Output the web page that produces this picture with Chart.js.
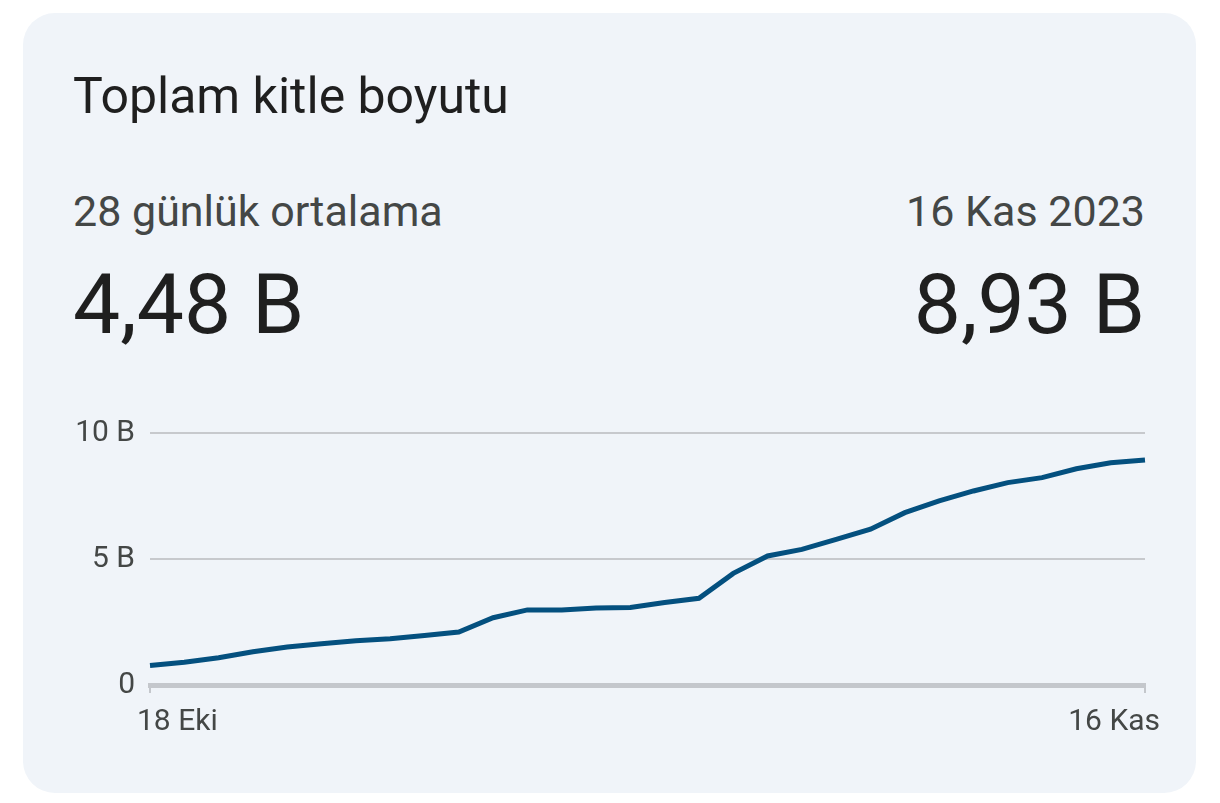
<!DOCTYPE html>
<html lang="tr">
<head>
<meta charset="utf-8">
<title>Toplam kitle boyutu</title>
<script src="https://cdn.jsdelivr.net/npm/chart.js@4.4.0/dist/chart.umd.min.js"></script>
<style>
  html, body { margin: 0; padding: 0; background: #ffffff; }
  body { width: 1220px; height: 803px; position: relative; overflow: hidden; font-family: Roboto, "Noto Sans", sans-serif; }
  .card { position: absolute; left: 23px; top: 13px; width: 1173px; height: 780px; background: #f0f4f9; border-radius: 32px; }
  .title, .sub, .big { position: absolute; line-height: 1; white-space: nowrap; }
  .title { left: 73px; top: 71px; font-size: 50px; color: #1f1f1f; }
  .sub { top: 190px; font-size: 43px; color: #444746; }
  .big { top: 263px; font-size: 84px; color: #1f1f1f; }
  .left { left: 73px; }
  .right { right: 75px; text-align: right; }
  #wrap { position: absolute; left: 60px; top: 415px; width: 1110px; height: 330px; }
</style>
</head>
<body>
<div class="card"></div>
<div class="title">Toplam kitle boyutu</div>
<div class="sub left">28 günlük ortalama</div>
<div class="sub right">16 Kas 2023</div>
<div class="big left">4,48 B</div>
<div class="big right">8,93 B</div>
<div id="wrap"><canvas id="audienceChart"></canvas></div>

<script>
// 18 Eki .. 16 Kas 2023, daily
const days = [
  '18 Eki', '19 Eki', '20 Eki', '21 Eki', '22 Eki', '23 Eki', '24 Eki', '25 Eki',
  '26 Eki', '27 Eki', '28 Eki', '29 Eki', '30 Eki', '31 Eki',
  '1 Kas', '2 Kas', '3 Kas', '4 Kas', '5 Kas', '6 Kas', '7 Kas', '8 Kas',
  '9 Kas', '10 Kas', '11 Kas', '12 Kas', '13 Kas', '14 Kas', '15 Kas', '16 Kas'
];

// audience size, billions (B)
const audience = [
  0.77, 0.90, 1.08, 1.32, 1.51, 1.64, 1.76, 1.84, 1.96, 2.10,
  2.67, 2.98, 2.98, 3.06, 3.08, 3.27, 3.44, 4.43, 5.12, 5.38,
  5.78, 6.18, 6.84, 7.31, 7.70, 8.03, 8.23, 8.58, 8.82, 8.93
];

const yTicks = [0, 5, 10];

const tickFont = { family: 'Roboto', size: 30 };
const tickColor = '#444746';
const lastIdx = days.length - 1;

// only the first and last dates are labelled, pushed slightly outward
const endLabels = {
  id: 'endLabels',
  afterDraw(chart) {
    const xs = chart.scales.x;
    const ctx = chart.ctx;
    const y = xs.bottom - 15;
    ctx.save();
    ctx.font = `${tickFont.size}px ${tickFont.family}`;
    ctx.fillStyle = tickColor;
    ctx.textBaseline = 'alphabetic';
    ctx.textAlign = 'left';
    ctx.fillText(days[0], xs.getPixelForValue(0) - 13, y);
    ctx.textAlign = 'right';
    ctx.fillText(days[lastIdx], xs.getPixelForValue(lastIdx) + 15, y);
    ctx.restore();
  }
};

function initAudienceChart() {
  const el = document.getElementById('audienceChart');
  if (!el) return;

  new Chart(el.getContext('2d'), {
    type: 'line',
    data: {
      labels: days,
      datasets: [{
        label: 'Toplam kitle boyutu',
        data: audience,
        borderColor: '#04507f',
        borderWidth: 5,
        pointRadius: 0,
        tension: 0,
        fill: false
      }]
    },
    options: {
      responsive: true,
      maintainAspectRatio: false,
      animation: false,
      layout: { padding: { top: 18, right: 25, left: 0, bottom: 0 } },
      plugins: {
        legend: { display: false },
        tooltip: { enabled: false }
      },
      scales: {
        x: {
          afterFit: (s) => { s.height = 60; s.paddingLeft = 0; s.paddingRight = 0; },
          border: { display: true, color: '#c4c7cc', width: 5 },
          grid: {
            drawOnChartArea: false,
            drawTicks: true,
            tickLength: 8,
            lineWidth: 2,
            color: (ctx) => (ctx.index === 0 || ctx.index === lastIdx) ? '#c4c7cc' : 'rgba(0,0,0,0)'
          },
          ticks: { display: false, autoSkip: false }
        },
        y: {
          min: 0,
          max: 10,
          afterFit: (s) => { s.width = 90; s.paddingTop = 0; s.paddingBottom = 0; },
          afterBuildTicks: (s) => { s.ticks = yTicks.map(v => ({ value: v })); },
          border: { display: false },
          grid: { color: '#c7c9cd', lineWidth: 2, drawTicks: false },
          ticks: {
            padding: 15,
            color: tickColor,
            font: tickFont,
            callback: (v) => v === 0 ? '0' : v + ' B'
          }
        }
      }
    },
    plugins: [endLabels]
  });
}

initAudienceChart();
</script>
</body>
</html>
